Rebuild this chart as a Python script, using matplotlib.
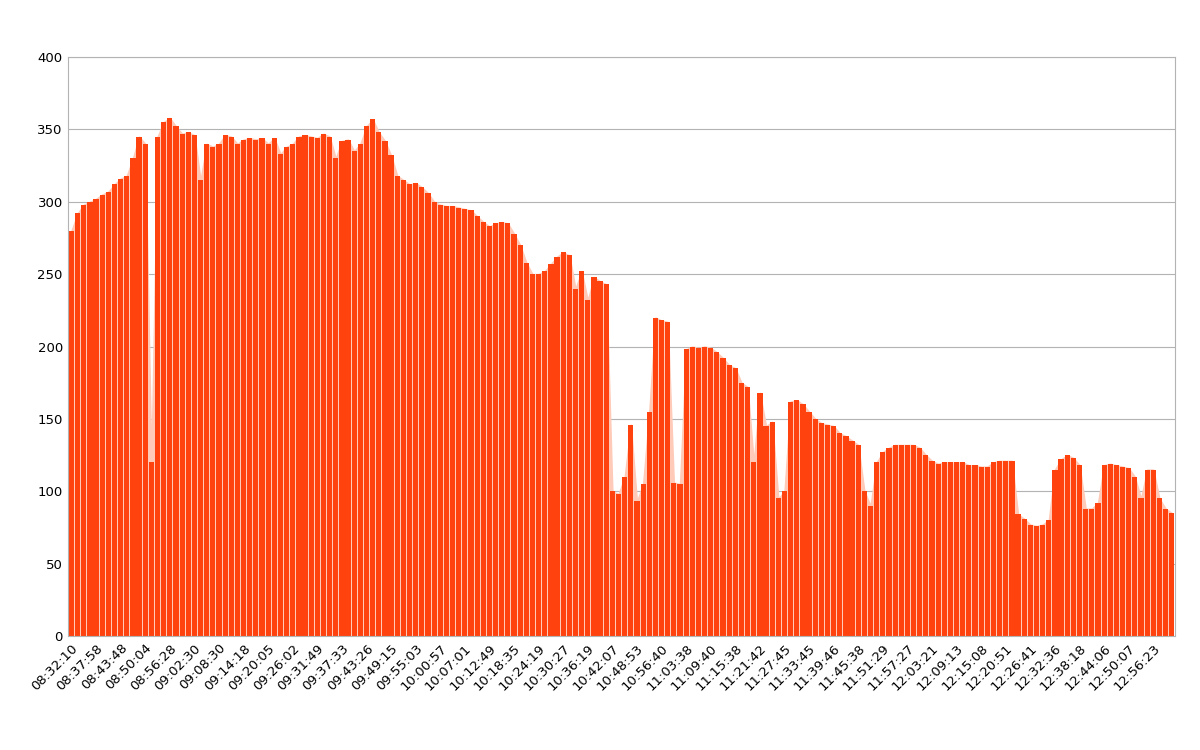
import matplotlib
matplotlib.use('Agg')
import matplotlib.pyplot as plt
import numpy as np

# one label every 4 samples
tick_labels = [
    "08:32:10", "08:37:58", "08:43:48", "08:50:04", "08:56:28", "09:02:30",
    "09:08:30", "09:14:18", "09:20:05", "09:26:02", "09:31:49", "09:37:33",
    "09:43:26", "09:49:15", "09:55:03", "10:00:57", "10:07:01", "10:12:49",
    "10:18:35", "10:24:19", "10:30:27", "10:36:19", "10:42:07", "10:48:53",
    "10:56:40", "11:03:38", "11:09:40", "11:15:38", "11:21:42", "11:27:45",
    "11:33:45", "11:39:46", "11:45:38", "11:51:29", "11:57:27", "12:03:21",
    "12:09:13", "12:15:08", "12:20:51", "12:26:41", "12:32:36", "12:38:18",
    "12:44:06", "12:50:07", "12:56:23",
]

values = [
    280, 292, 298, 300, 302, 305, 307, 312, 316, 318, 330, 345,
    340, 120, 345, 355, 358, 352, 347, 348, 346, 315, 340, 338,
    340, 346, 345, 340, 343, 344, 343, 344, 340, 344, 333, 338,
    340, 345, 346, 345, 344, 347, 345, 330, 342, 343, 335, 340,
    352, 357, 348, 342, 332, 318, 315, 312, 313, 310, 306, 300,
    298, 297, 297, 296, 295, 294, 290, 286, 283, 285, 286, 285,
    278, 270, 258, 250, 250, 252, 257, 262, 265, 263, 240, 252,
    232, 248, 245, 243, 100, 98, 110, 146, 93, 105, 155, 220,
    218, 217, 106, 105, 198, 200, 199, 200, 199, 196, 192, 187,
    185, 175, 172, 120, 168, 145, 148, 95, 100, 162, 163, 160,
    155, 150, 147, 146, 145, 140, 138, 135, 132, 100, 90, 120,
    127, 130, 132, 132, 132, 132, 130, 125, 121, 119, 120, 120,
    120, 120, 118, 118, 117, 117, 120, 121, 121, 121, 84, 81,
    77, 76, 77, 80, 115, 122, 125, 123, 118, 88, 88, 92,
    118, 119, 118, 117, 116, 110, 95, 115, 115, 95, 88, 85,
]

x = np.arange(len(values))

fig = plt.figure(figsize=(12, 7.5), dpi=100)
ax = fig.add_axes([0.057, 0.152, 0.922, 0.772])

# pale band behind the bars, like the anti-aliased gaps in the original
ax.fill_between(x, values, color='#ffcbb8', zorder=1)
ax.bar(x, values, width=0.85, color='#ff420e', zorder=2)

ax.set_xlim(-0.5, len(values) - 0.5)
ax.set_ylim(0, 400)
ax.set_yticks(range(0, 401, 50))
ax.yaxis.grid(True, color='#b3b3b3', linewidth=0.8)
ax.set_axisbelow(True)

ax.set_xticks(x[::4])
ax.set_xticklabels(tick_labels, rotation=45, ha='right', rotation_mode='anchor')
ax.tick_params(labelsize=9.5, length=0, pad=4)
for s in ax.spines.values():
    s.set_color('#b3b3b3')

fig.savefig('out.png', dpi=100, facecolor='white')
